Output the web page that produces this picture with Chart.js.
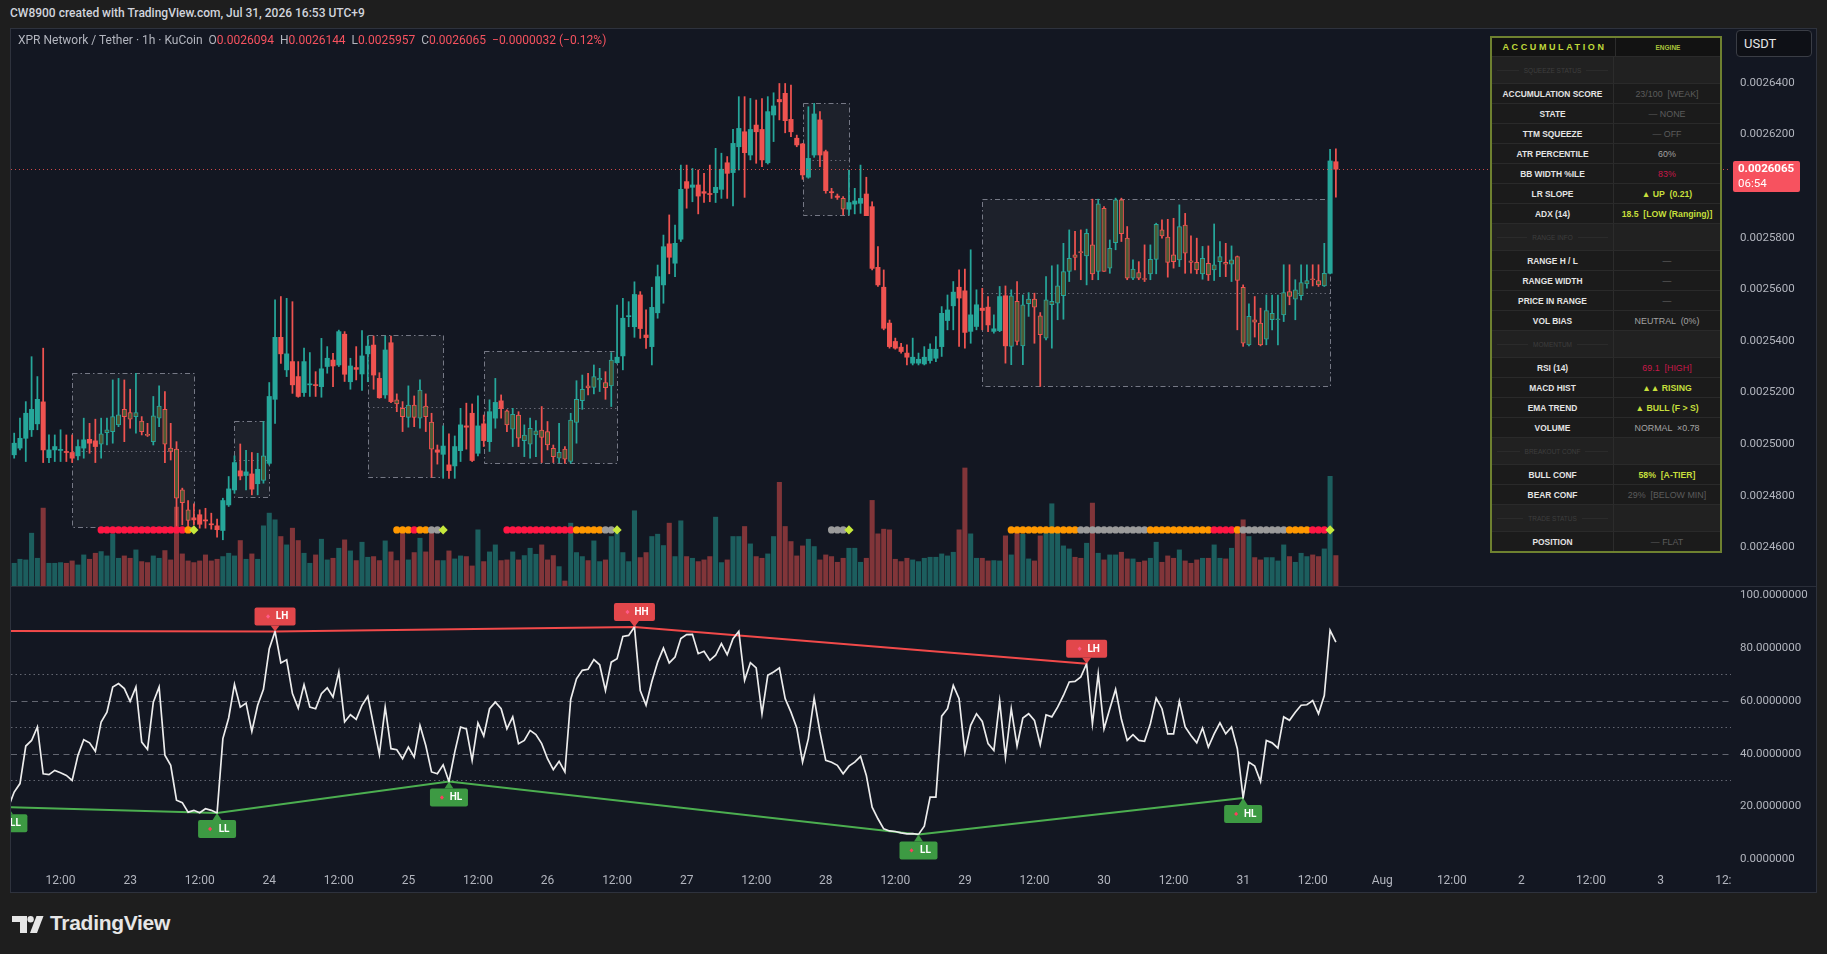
<!DOCTYPE html>
<html>
<head>
<meta charset="utf-8">
<title>XPR Network / Tether · 1h · KuCoin</title>
<script src="https://cdn.jsdelivr.net/npm/chart.js@4.4.1/dist/chart.umd.min.js"></script>
<style>
  html, body { margin:0; padding:0; width:1827px; height:954px; overflow:hidden; background:#1e1e1e; }
  body { position:relative; font-family: Roboto, "Noto Sans", Arial, sans-serif; }
  #header { position:absolute; left:10px; top:6px; font-size:12px; font-weight:500; color:#d1d4dc; white-space:pre; }
  #frame { position:absolute; left:10px; top:28px; width:1807px; height:865px; box-sizing:border-box; border:1px solid #2e323d; background:#131722; }
  #mainCanvas { position:absolute; left:11px; top:29px; }
  #sep { position:absolute; left:11px; top:586px; width:1805px; height:1px; background:#2a2e39; }
  #rsiCanvas { position:absolute; left:11px; top:587px; }
  #axisMask { position:absolute; left:1731px; top:868px; width:85px; height:24px; background:#131722; }
  #legend { position:absolute; left:18px; top:33px; font-size:12px; color:#b2b5be; white-space:pre; }
  #legend .v { color:#f7525f; }
  #usdt { position:absolute; left:1736px; top:30px; width:76px; height:27px; box-sizing:border-box; border:1px solid #3a3d45; border-radius:4px; background:#0e1016; color:#e6e6e6; font-size:13px; line-height:25px; padding-left:7px; }
  #tbl { position:absolute; left:1490px; top:36px; width:232px; border:2px solid #6e8130; box-sizing:border-box; background:#1b1b1b; font-family:"Liberation Sans", Arial, sans-serif; }
  #tbl .r { display:flex; height:20px; border-top:1px solid #2a2a2a; box-sizing:border-box; }
  #tbl .r:first-child { border-top:none; }
  #tbl .a { width:121px; flex:none; border-right:1px solid #2c2c2c; display:flex; align-items:center; justify-content:center; color:#e4e4e4; font-weight:bold; font-size:8.4px; white-space:pre; }
  #tbl .b { flex:1; display:flex; align-items:center; justify-content:center; font-size:8.9px; white-space:pre; }
  #tbl .h { height:18px; background:#121212; }
  #tbl .h .a { color:#c0da3a; letter-spacing:2.6px; font-size:9px; padding-left:2px; }
  #tbl .h .b { color:#a9c23a; font-size:6.5px; font-weight:bold; }
  #tbl .s { height:27px; background:#212121; }
  #tbl .s .a { color:#3e3e3e; font-weight:normal; font-size:6.5px; }
  #tbl .s .a::before, #tbl .s .a::after { content:""; flex:1; height:1px; background:#2b2b2b; margin:0 5px; }
  #tbl .dim { color:#5c5c5c; }
  #tbl .lt { color:#a3a3a3; }
  #tbl .cr { color:#c9184a; }
  #tbl .lm { color:#c6df3c; font-weight:bold; font-size:8.7px; }
  #tbl .ds { color:#6c6c6c; }
  #logo { position:absolute; left:12px; top:916px; }
  #logoText { position:absolute; left:50px; top:911px; font-family:"Liberation Sans", Arial, sans-serif; font-weight:bold; font-size:21px; color:#e6e6e6; letter-spacing:-0.3px; }
</style>
</head>
<body>
<div id="header">CW8900 created with TradingView.com, Jul 31, 2026 16:53 UTC+9</div>
<div id="frame"></div>
<canvas id="mainCanvas" width="1805" height="557" style="width:1805px;height:557px"></canvas>
<div id="sep"></div>
<canvas id="rsiCanvas" width="1805" height="305" style="width:1805px;height:305px"></canvas>
<div id="axisMask"></div>
<div id="legend"></div>
<div id="usdt">USDT</div>
<div id="tbl"></div>
<svg id="logo" width="32" height="17" viewBox="0 0 32 17">
  <path d="M0 0H15V17H8V6H0Z" fill="#e6e6e6"/>
  <circle cx="18.6" cy="3.2" r="3.2" fill="#e6e6e6"/>
  <path d="M24.5 0H31.5L25 17H18Z" fill="#e6e6e6"/>
</svg>
<div id="logoText">TradingView</div>

<script>
// ---------------- DATA ----------------
// First candle: Jul 22 03:00 (UTC+9); x values are hours since Jul 22 00:00.
const FIRST_HOUR = 3;

const opens = [
0.0025118,0.0024959,0.0024985,0.0025023,0.0025056,0.0025079,0.0025164,0.0024948,0.0024978,0.0024976,
0.0024972,0.0024968,0.0024955,0.0024985,0.0025019,0.0025013,0.0025000,0.0025045,0.0025049,0.0025075,
0.0025135,0.0025123,0.0025107,0.0025090,0.0025036,0.0025010,0.0025101,0.0025135,0.0024985,0.0024981,
0.0024823,0.0024746,0.0024715,0.0024727,0.0024707,0.0024690,0.0024684,0.0024666,0.0024765,0.0024823,
0.0024897,0.0024879,0.0024885,0.0024847,0.0024860,0.0024926,0.0025174,0.0025414,0.0025288,0.0025320,
0.0025262,0.0025200,0.0025230,0.0025230,0.0025223,0.0025301,0.0025326,0.0025307,0.0025426,0.0025242,
0.0025297,0.0025272,0.0025350,0.0025384,0.0025255,0.0025191,0.0025393,0.0025172,0.0025139,0.0025104,
0.0025152,0.0025101,0.0025148,0.0025086,0.0024978,0.0024961,0.0024920,0.0024916,0.0024975,0.0025071,
0.0025120,0.0024965,0.0025079,0.0025010,0.0025101,0.0025168,0.0025129,0.0025058,0.0025113,0.0025014,
0.0025000,0.0025036,0.0025055,0.0025049,0.0024984,0.0024946,0.0024981,0.0024933,0.0025084,0.0025169,
0.0025226,0.0025220,0.0025249,0.0025239,0.0025226,0.0025316,0.0025342,0.0025494,0.0025455,0.0025578,
0.0025423,0.0025378,0.0025509,0.0025617,0.0025776,0.0025701,0.0025794,0.0026017,0.0025995,0.0026004,
0.0025978,0.0025969,0.0025974,0.0025987,0.0026090,0.0026052,0.0026152,0.0026210,0.0026120,0.0026236,
0.0026219,0.0026090,0.0026275,0.0026335,0.0026359,0.0026258,0.0026185,0.0026163,0.0026034,0.0026120,
0.0026256,0.0026133,0.0025978,0.0025961,0.0025952,0.0025910,0.0025930,0.0025933,0.0025969,0.0025920,
0.0025685,0.0025608,0.0025469,0.0025398,0.0025376,0.0025353,0.0025314,0.0025314,0.0025311,0.0025324,
0.0025333,0.0025378,0.0025479,0.0025536,0.0025608,0.0025594,0.0025437,0.0025456,0.0025527,0.0025531,
0.0025437,0.0025440,0.0025575,0.0025379,0.0025553,0.0025381,0.0025544,0.0025562,0.0025497,0.0025411,
0.0025540,0.0025546,0.0025575,0.0025669,0.0025733,0.0025746,0.0025729,0.0025772,0.0025669,0.0025914,
0.0025682,0.0025781,0.0025946,0.0025798,0.0025643,0.0025665,0.0025640,0.0025660,0.0025716,0.0025830,
0.0025802,0.0025733,0.0025714,0.0025849,0.0025710,0.0025704,0.0025660,0.0025701,0.0025675,0.0025707,
0.0025704,0.0025697,0.0025727,0.0025608,0.0025385,0.0025482,0.0025469,0.0025407,0.0025482,0.0025482,
0.0025501,0.0025591,0.0025562,0.0025575,0.0025621,0.0025639,0.0025634,0.0025613,0.0025662,0.0026094
];
const highs = [
0.0025135,0.0025043,0.0025101,0.0025165,0.0025339,0.0025262,0.0025372,0.0025036,0.0025036,0.0025056,
0.0025036,0.0025036,0.0025017,0.0025101,0.0025081,0.0025097,0.0025101,0.0025101,0.0025249,0.0025255,
0.0025249,0.0025213,0.0025275,0.0025107,0.0025081,0.0025185,0.0025226,0.0025204,0.0025081,0.0025010,
0.0024830,0.0024782,0.0024769,0.0024746,0.0024752,0.0024733,0.0024710,0.0024791,0.0024875,0.0024955,
0.0025001,0.0024976,0.0024968,0.0024965,0.0025088,0.0025239,0.0025559,0.0025572,0.0025565,0.0025552,
0.0025320,0.0025372,0.0025355,0.0025281,0.0025410,0.0025378,0.0025352,0.0025442,0.0025436,0.0025333,
0.0025378,0.0025440,0.0025419,0.0025419,0.0025277,0.0025419,0.0025419,0.0025195,0.0025165,0.0025226,
0.0025187,0.0025249,0.0025195,0.0025120,0.0024997,0.0025071,0.0025040,0.0025032,0.0025139,0.0025159,
0.0025156,0.0025187,0.0025113,0.0025172,0.0025255,0.0025191,0.0025133,0.0025139,0.0025126,0.0025075,
0.0025101,0.0025092,0.0025146,0.0025088,0.0024997,0.0025081,0.0024991,0.0025120,0.0025246,0.0025268,
0.0025275,0.0025307,0.0025294,0.0025281,0.0025355,0.0025539,0.0025565,0.0025552,0.0025629,0.0025591,
0.0025520,0.0025608,0.0025694,0.0025810,0.0025888,0.0025849,0.0026081,0.0026081,0.0026068,0.0026062,
0.0026049,0.0026081,0.0026146,0.0026127,0.0026114,0.0026219,0.0026346,0.0026346,0.0026339,0.0026333,
0.0026339,0.0026346,0.0026361,0.0026397,0.0026397,0.0026391,0.0026197,0.0026165,0.0026307,0.0026320,
0.0026288,0.0026139,0.0025991,0.0025969,0.0025959,0.0026062,0.0025991,0.0026081,0.0026034,0.0025939,
0.0025765,0.0025675,0.0025481,0.0025411,0.0025391,0.0025385,0.0025411,0.0025353,0.0025378,0.0025389,
0.0025417,0.0025533,0.0025578,0.0025630,0.0025675,0.0025678,0.0025753,0.0025598,0.0025604,0.0025572,
0.0025501,0.0025611,0.0025613,0.0025598,0.0025630,0.0025578,0.0025587,0.0025585,0.0025510,0.0025649,
0.0025691,0.0025695,0.0025778,0.0025830,0.0025824,0.0025830,0.0025833,0.0025949,0.0025949,0.0025920,
0.0025791,0.0025953,0.0025953,0.0025843,0.0025714,0.0025707,0.0025772,0.0025772,0.0025856,0.0025869,
0.0025871,0.0025875,0.0025927,0.0025894,0.0025807,0.0025798,0.0025766,0.0025768,0.0025853,0.0025785,
0.0025778,0.0025768,0.0025729,0.0025617,0.0025544,0.0025572,0.0025527,0.0025578,0.0025578,0.0025578,
0.0025695,0.0025695,0.0025637,0.0025695,0.0025695,0.0025695,0.0025695,0.0025778,0.0026142,0.0026144
];
const lows = [
0.0024950,0.0024946,0.0024978,0.0024933,0.0025030,0.0025056,0.0024929,0.0024929,0.0024933,0.0024933,
0.0024933,0.0024929,0.0024939,0.0024946,0.0024965,0.0024929,0.0024946,0.0024997,0.0025004,0.0025068,
0.0025010,0.0025062,0.0025043,0.0025036,0.0025030,0.0024997,0.0025068,0.0024929,0.0024939,0.0024681,
0.0024688,0.0024681,0.0024688,0.0024675,0.0024675,0.0024671,0.0024640,0.0024630,0.0024759,0.0024810,
0.0024862,0.0024823,0.0024804,0.0024804,0.0024849,0.0024920,0.0025081,0.0025313,0.0025262,0.0025197,
0.0025182,0.0025185,0.0025185,0.0025185,0.0025182,0.0025275,0.0025223,0.0025301,0.0025243,0.0025213,
0.0025249,0.0025208,0.0025242,0.0025213,0.0025178,0.0025178,0.0025161,0.0025126,0.0025049,0.0025066,
0.0025068,0.0025062,0.0025049,0.0024872,0.0024923,0.0024868,0.0024868,0.0024868,0.0024933,0.0024981,
0.0024933,0.0024955,0.0024991,0.0024972,0.0025062,0.0025101,0.0025049,0.0024991,0.0024991,0.0024952,
0.0024946,0.0024952,0.0024929,0.0024978,0.0024929,0.0024929,0.0024926,0.0024926,0.0025004,0.0025135,
0.0025191,0.0025195,0.0025204,0.0025174,0.0025146,0.0025313,0.0025288,0.0025455,0.0025414,0.0025410,
0.0025371,0.0025307,0.0025488,0.0025546,0.0025660,0.0025649,0.0025785,0.0025914,0.0025939,0.0025892,
0.0025936,0.0025939,0.0025936,0.0025952,0.0025952,0.0025923,0.0026062,0.0025956,0.0026101,0.0026088,
0.0026075,0.0026085,0.0026172,0.0026256,0.0026206,0.0026191,0.0026152,0.0026026,0.0026030,0.0026111,
0.0026075,0.0025972,0.0025952,0.0025948,0.0025888,0.0025888,0.0025892,0.0025894,0.0025885,0.0025675,
0.0025611,0.0025443,0.0025372,0.0025368,0.0025353,0.0025307,0.0025307,0.0025307,0.0025307,0.0025314,
0.0025320,0.0025340,0.0025443,0.0025443,0.0025379,0.0025372,0.0025391,0.0025443,0.0025443,0.0025436,
0.0025430,0.0025436,0.0025314,0.0025308,0.0025385,0.0025308,0.0025495,0.0025391,0.0025224,0.0025404,
0.0025372,0.0025482,0.0025484,0.0025630,0.0025675,0.0025637,0.0025617,0.0025637,0.0025637,0.0025669,
0.0025662,0.0025753,0.0025785,0.0025637,0.0025637,0.0025637,0.0025630,0.0025637,0.0025660,0.0025798,
0.0025647,0.0025682,0.0025688,0.0025662,0.0025662,0.0025660,0.0025639,0.0025634,0.0025634,0.0025649,
0.0025649,0.0025630,0.0025443,0.0025379,0.0025381,0.0025415,0.0025381,0.0025385,0.0025443,0.0025385,
0.0025475,0.0025540,0.0025482,0.0025559,0.0025604,0.0025613,0.0025611,0.0025611,0.0025660,0.0025957
];
const closes = [
0.0024962,0.0025004,0.0025023,0.0025120,0.0025135,0.0025174,0.0024978,0.0024978,0.0024991,0.0024978,
0.0024968,0.0024946,0.0024991,0.0025017,0.0025004,0.0024991,0.0025040,0.0025056,0.0025107,0.0025114,
0.0025107,0.0025097,0.0025123,0.0025049,0.0025034,0.0025110,0.0025148,0.0025000,0.0024972,0.0024791,
0.0024774,0.0024705,0.0024707,0.0024690,0.0024703,0.0024688,0.0024669,0.0024782,0.0024827,0.0024929,
0.0024877,0.0024893,0.0024826,0.0024903,0.0024955,0.0025185,0.0025414,0.0025350,0.0025350,0.0025230,
0.0025185,0.0025320,0.0025232,0.0025227,0.0025292,0.0025333,0.0025303,0.0025436,0.0025271,0.0025303,
0.0025290,0.0025342,0.0025380,0.0025268,0.0025180,0.0025365,0.0025165,0.0025156,0.0025107,0.0025152,
0.0025104,0.0025210,0.0025107,0.0024981,0.0024969,0.0024993,0.0024898,0.0024991,0.0025075,0.0025066,
0.0024937,0.0025071,0.0025014,0.0025126,0.0025162,0.0025138,0.0025075,0.0025116,0.0025023,0.0025035,
0.0025062,0.0025052,0.0025026,0.0024997,0.0024952,0.0024969,0.0024942,0.0025094,0.0025174,0.0025213,
0.0025218,0.0025262,0.0025255,0.0025219,0.0025326,0.0025337,0.0025488,0.0025497,0.0025580,0.0025448,
0.0025413,0.0025530,0.0025649,0.0025765,0.0025724,0.0025778,0.0025987,0.0025991,0.0026004,0.0025961,
0.0025972,0.0025967,0.0025995,0.0026065,0.0026049,0.0026165,0.0026223,0.0026129,0.0026219,0.0026210,
0.0026101,0.0026288,0.0026310,0.0026326,0.0026253,0.0026210,0.0026159,0.0026043,0.0026107,0.0026279,
0.0026120,0.0025982,0.0025974,0.0025956,0.0025910,0.0025936,0.0025942,0.0025952,0.0025885,0.0025681,
0.0025617,0.0025449,0.0025378,0.0025372,0.0025359,0.0025337,0.0025337,0.0025329,0.0025337,0.0025368,
0.0025368,0.0025507,0.0025520,0.0025589,0.0025566,0.0025433,0.0025501,0.0025540,0.0025518,0.0025462,
0.0025447,0.0025572,0.0025381,0.0025575,0.0025398,0.0025540,0.0025562,0.0025531,0.0025424,0.0025559,
0.0025553,0.0025613,0.0025669,0.0025720,0.0025723,0.0025742,0.0025817,0.0025660,0.0025931,0.0025669,
0.0025759,0.0025946,0.0025815,0.0025643,0.0025678,0.0025643,0.0025638,0.0025716,0.0025852,0.0025807,
0.0025704,0.0025707,0.0025843,0.0025740,0.0025704,0.0025675,0.0025720,0.0025656,0.0025695,0.0025727,
0.0025697,0.0025714,0.0025634,0.0025391,0.0025495,0.0025473,0.0025385,0.0025518,0.0025507,0.0025484,
0.0025587,0.0025572,0.0025598,0.0025626,0.0025634,0.0025637,0.0025617,0.0025662,0.0026097,0.0026065
];
// relative volume (hidden scale)
const volumes = [
70,68,80,78,158,83,233,68,68,70,
68,75,63,93,80,98,103,90,156,83,
90,83,108,73,70,90,83,106,78,236,
96,75,70,75,93,75,80,88,98,90,
136,80,96,80,180,218,198,148,123,173,
136,98,68,93,140,78,83,113,138,105,
76,131,86,88,76,135,102,76,160,78,
100,143,102,158,76,76,105,81,90,88,
60,168,73,102,123,76,78,102,78,91,
113,95,123,78,91,58,15,188,100,88,
76,135,73,78,148,158,100,73,225,85,
100,148,155,121,188,88,195,88,83,73,
78,88,206,70,78,148,148,178,126,88,
83,96,148,310,178,133,90,120,140,118,
78,93,88,71,83,113,113,71,83,256,
156,170,168,80,73,83,78,73,83,86,
86,96,90,101,168,353,156,83,83,75,
76,75,150,93,171,155,81,75,150,168,
246,163,120,111,86,83,128,248,98,78,
93,93,101,81,81,71,75,83,131,71,
90,83,108,75,68,78,83,83,123,83,
81,113,178,198,148,85,78,85,85,75,
123,88,71,98,88,93,88,111,328,91
];
const rsiValues = [
19.8,25.5,28.7,42.9,45.0,50.1,32.4,32.1,33.7,32.8,
31.8,29.9,39.4,45.3,44.1,40.9,52.0,55.7,65.2,66.5,
64.6,59.8,65.2,44.4,41.6,59.5,65.2,39.4,35.6,22.4,
21.5,17.9,18.6,17.7,19.2,18.6,17.6,45.7,53.5,66.2,
57.6,59.1,48.4,58.3,64.3,79.7,86.2,74.3,75.5,62.7,
57.2,66.1,57.6,57.0,62.7,64.9,61.4,70.9,52.0,54.7,
53.0,58.3,61.7,50.7,39.7,57.6,41.9,41.5,38.1,42.5,
38.7,50.7,43.1,33.1,32.4,35.8,29.5,40.6,50.1,49.4,
37.5,51.6,46.7,57.0,59.5,57.0,49.4,53.9,43.8,45.0,
48.8,47.2,43.8,38.1,34.0,37.1,33.1,60.5,68.3,71.5,
71.9,75.6,73.6,63.9,74.6,75.9,84.3,84.7,87.9,63.9,
58.3,67.3,74.6,79.9,74.3,76.5,83.5,85.0,85.1,77.8,
78.7,75.3,77.2,81.6,77.4,83.5,86.2,67.7,74.4,72.4,
55.1,69.6,70.9,72.4,60.8,55.7,49.7,36.8,45.7,61.0,
48.2,37.5,36.8,35.6,32.4,35.3,36.8,39.0,31.8,19.8,
15.4,11.6,10.8,10.6,10.1,9.7,9.8,9.5,12.6,23.6,
23.6,54.2,57.0,65.8,60.8,40.6,50.7,55.1,52.2,43.8,
41.2,59.8,38.7,57.0,42.9,53.5,55.1,52.6,43.4,54.7,
53.9,57.6,62.0,67.1,67.3,69.0,74.0,51.3,70.2,49.4,
57.0,64.3,53.0,45.0,47.2,45.0,44.7,51.3,61.0,57.0,
47.5,47.5,59.8,50.1,46.9,44.1,49.7,42.5,47.5,51.7,
47.5,50.1,41.9,23.3,36.8,35.3,29.5,45.0,44.1,42.1,
53.9,52.6,55.7,58.3,58.5,60.1,55.1,62.0,86.6,82.2
];

// RSI swing pivots (hour, value, label)
const hiPivotHour  = [1, 49, 111, 189];
const hiPivotValue = [86.4, 86.2, 87.9, 74.0];
const hiPivotLabel = ['', 'LH', 'HH', 'LH'];
const loPivotHour  = [3, 39, 79, 160, 216];
const loPivotValue = [19.8, 17.6, 29.5, 9.5, 23.3];
const loPivotLabel = ['LL', 'LL', 'HL', 'LL', 'HL'];

// Accumulation ranges (hours, prices)
const boxStartHour = [14, 42, 65, 85, 140, 171];
const boxEndHour   = [35, 48, 78, 108, 148, 231];
const boxTop       = [0.0025275, 0.0025090, 0.0025422, 0.0025360, 0.0026320, 0.0025949];
const boxBottom    = [0.0024679, 0.0024797, 0.0024872, 0.0024926, 0.0025888, 0.0025226];
// candles painted in accumulation colour (hour ranges)
const oliveRuns = [[19,34],[47,47],[70,76],[89,107],[147,147],[176,230]];
// state dots: [fromHour, toHour, state]  r=red o=orange g=grey d=breakout diamond
const dotRuns = [
  [19,33,'r'],[34,34,'o'],[35,35,'d'],
  [70,72,'o'],[73,73,'r'],[74,75,'o'],[76,77,'g'],[78,78,'d'],
  [89,100,'r'],[101,105,'o'],[106,107,'g'],[108,108,'d'],
  [145,147,'g'],[148,148,'d'],
  [176,187,'o'],[188,199,'g'],[200,210,'o'],[211,214,'r'],[215,215,'o'],[216,223,'g'],[224,227,'o'],[228,230,'r'],[231,231,'d']
];

const priceTicks = [0.00264, 0.00262, 0.00258, 0.00256, 0.00254, 0.00252, 0.00250, 0.00248, 0.00246];
const rsiTicks = [0, 20, 40, 60, 80, 100];
const rsiLevels = [70, 60, 50, 40, 30];
const rsiLevelStyle = ['dot', 'dash', 'dot', 'dash', 'dot'];
const timeTickHours = [12,24,36,48,60,72,84,96,108,120,132,144,156,168,180,192,204,216,228,240,252,264,276,288,300];
const timeTickLabels = ['12:00','23','12:00','24','12:00','25','12:00','26','12:00','27','12:00','28','12:00','29','12:00','30','12:00','31','12:00','Aug','12:00','2','12:00','3','12:00'];
const lastTimeLeft = '06:54';

const tableRows = [
  ['s','SQUEEZE STATUS'],
  ['r','ACCUMULATION SCORE','23/100  [WEAK]','dim'],
  ['r','STATE','— NONE','dim'],
  ['r','TTM SQUEEZE','— OFF','dim'],
  ['r','ATR PERCENTILE','60%','lt'],
  ['r','BB WIDTH %ILE','83%','cr'],
  ['r','LR SLOPE','▲ UP  (0.21)','lm'],
  ['r','ADX (14)','18.5  [LOW (Ranging)]','lm'],
  ['s','RANGE INFO'],
  ['r','RANGE H / L','—','ds'],
  ['r','RANGE WIDTH','—','ds'],
  ['r','PRICE IN RANGE','—','ds'],
  ['r','VOL BIAS','NEUTRAL  (0%)','lt'],
  ['s','MOMENTUM'],
  ['r','RSI (14)','69.1  [HIGH]','cr'],
  ['r','MACD HIST','▲▲ RISING','lm'],
  ['r','EMA TREND','▲ BULL (F > S)','lm'],
  ['r','VOLUME','NORMAL  ×0.78','lt'],
  ['s','BREAKOUT CONF'],
  ['r','BULL CONF','58%  [A-TIER]','lm'],
  ['r','BEAR CONF','29%  [BELOW MIN]','dim'],
  ['s','TRADE STATUS'],
  ['r','POSITION','— FLAT','dim']
];

// ---------------- LAYOUT / STYLE ----------------
const X_MIN = 3.45, X_MAX = 300.16;
const P_MIN = 0.0024451, P_MAX = 0.0026608;
const VOL_MAX = 1666;
const R_MIN = -3.2, R_MAX = 103.0;
const AXIS_W = 85;
const DOT_LEVEL = 0.0024668;
const UP = '#26a69a', DN = '#ef5350', OLIVE = '#4e5b35';
const AXIS_TXT = '#b2b5be';
Chart.defaults.font.family = 'Roboto, "Noto Sans", sans-serif';

// ---------------- HTML parts ----------------
(function buildHtml() {
  const n = closes.length - 1;
  const fmt = v => v.toFixed(7);
  const ch = closes[n] - closes[n - 1];
  const pct = ch / closes[n - 1] * 100;
  const sign = ch < 0 ? '−' : '+';
  document.getElementById('legend').innerHTML =
    'XPR Network / Tether · 1h · KuCoin  O<span class="v">' + fmt(opens[n]) +
    '</span>  H<span class="v">' + fmt(highs[n]) +
    '</span>  L<span class="v">' + fmt(lows[n]) +
    '</span>  C<span class="v">' + fmt(closes[n]) +
    '</span>  <span class="v">' + sign + Math.abs(ch).toFixed(7) + ' (' + sign + Math.abs(pct).toFixed(2) + '%)</span>';
  let html = '<div class="r h"><div class="a">ACCUMULATION</div><div class="b">ENGINE</div></div>';
  tableRows.forEach(r => {
    if (r[0] === 's') html += '<div class="r s"><div class="a">' + r[1] + '</div><div class="b"></div></div>';
    else html += '<div class="r"><div class="a">' + r[1] + '</div><div class="b ' + r[3] + '">' + r[2].replace(/&/g,'&amp;').replace(/</g,'&lt;').replace(/>/g,'&gt;') + '</div></div>';
  });
  document.getElementById('tbl').innerHTML = html;
})();

// ---------------- derived drawing lists ----------------
const hours = closes.map((_, k) => FIRST_HOUR + k);
const isUp = closes.map((c, k) => c >= opens[k]);
const isOlive = hours.map(h => oliveRuns.some(r => h >= r[0] && h <= r[1]));
const dotColor = { r: '#ff1744', o: '#ff9800', g: '#9b9b9b', d: '#c6e83c' };
const dotPoints = [];
dotRuns.forEach(run => { for (let h = run[0]; h <= run[1]; h++) dotPoints.push({ x: h, y: DOT_LEVEL, s: run[2] }); });

// axis fitting helpers: fixed axis size, no extra label padding
const fitVertical = s => { s.width = AXIS_W; s.paddingTop = 0; s.paddingBottom = 0; };
const fitHorizontal = s => { s.height = 24; s.paddingLeft = 0; s.paddingRight = 0; };

// ---------------- MAIN PANE ----------------
const mainDeco = {
  id: 'mainDeco',
  beforeDatasetsDraw(chart) {
    const { ctx, chartArea: a, scales: { x, y } } = chart;
    ctx.save();
    ctx.beginPath(); ctx.rect(a.left, a.top, a.right - a.left, a.bottom - a.top); ctx.clip();
    for (let b = 0; b < boxStartHour.length; b++) {
      const x0 = Math.round(x.getPixelForValue(boxStartHour[b])) + 0.5;
      const x1 = Math.round(x.getPixelForValue(boxEndHour[b])) + 0.5;
      const y0 = Math.round(y.getPixelForValue(boxTop[b])) + 0.5;
      const y1 = Math.round(y.getPixelForValue(boxBottom[b])) + 0.5;
      ctx.fillStyle = 'rgba(255,255,255,0.045)';
      ctx.fillRect(x0, y0, x1 - x0, y1 - y0);
      ctx.lineWidth = 1;
      ctx.strokeStyle = 'rgba(150,152,165,0.75)';
      ctx.setLineDash([5, 3, 1.5, 3]);
      ctx.strokeRect(x0, y0, x1 - x0, y1 - y0);
      const ym = Math.round((y0 + y1) / 2) + 0.5;
      ctx.setLineDash([1.5, 3]);
      ctx.strokeStyle = 'rgba(150,152,165,0.6)';
      ctx.beginPath(); ctx.moveTo(x0, ym); ctx.lineTo(x1, ym); ctx.stroke();
    }
    ctx.restore();
  },
  afterDatasetsDraw(chart) {
    const { ctx, chartArea: a, scales: { y } } = chart;
    const py = Math.round(y.getPixelForValue(closes[closes.length - 1])) + 0.5;
    ctx.save();
    ctx.strokeStyle = 'rgba(239,83,80,0.85)';
    ctx.lineWidth = 1;
    ctx.setLineDash([1, 3]);
    ctx.beginPath(); ctx.moveTo(a.left, py); ctx.lineTo(a.right, py); ctx.stroke();
    ctx.restore();
  },
  afterDraw(chart) {
    const { ctx, chartArea: a, scales: { y } } = chart;
    const last = closes[closes.length - 1];
    const py = y.getPixelForValue(last);
    const bx = a.right + 2, bw = 67, by = Math.round(py) - 8, bh = 31;
    ctx.save();
    ctx.fillStyle = '#f7525f';
    ctx.beginPath();
    if (ctx.roundRect) ctx.roundRect(bx, by, bw, bh, 2); else ctx.rect(bx, by, bw, bh);
    ctx.fill();
    ctx.fillStyle = '#ffffff';
    ctx.textAlign = 'left'; ctx.textBaseline = 'middle';
    ctx.font = 'bold 11.5px Roboto, sans-serif';
    ctx.fillText(last.toFixed(7), bx + 5, Math.round(py) + 0.5);
    ctx.font = '11.5px Roboto, sans-serif';
    ctx.fillText(lastTimeLeft, bx + 5, Math.round(py) + 15);
    ctx.restore();
  }
};

new Chart(document.getElementById('mainCanvas'), {
  type: 'bar',
  data: {
    datasets: [
      {
        type: 'bar', label: 'Volume', yAxisID: 'yv', order: 10, grouped: false,
        data: hours.map((h, k) => ({ x: h, y: volumes[k] })),
        backgroundColor: isUp.map(u => u ? 'rgba(38,166,154,0.5)' : 'rgba(239,83,80,0.5)'),
        barThickness: 4.4
      },
      {
        type: 'bar', label: 'Wick', yAxisID: 'y', order: 6, grouped: false,
        data: hours.map((h, k) => ({ x: h, y: [lows[k], highs[k]] })),
        backgroundColor: isUp.map(u => u ? UP : DN),
        barThickness: 1.1
      },
      {
        type: 'bar', label: 'Body', yAxisID: 'y', order: 5, grouped: false,
        data: hours.map((h, k) => ({ x: h, y: [opens[k], closes[k]] })),
        backgroundColor: hours.map((h, k) => isOlive[k] ? OLIVE : (isUp[k] ? UP : DN)),
        borderColor: isUp.map(u => u ? UP : DN),
        borderWidth: isOlive.map(o => o ? 1 : 0),
        borderSkipped: false,
        minBarLength: 1,
        barThickness: 4.4
      },
      {
        type: 'line', label: 'State', yAxisID: 'y', order: 1,
        data: dotPoints,
        showLine: false,
        pointRadius: dotPoints.map(p => p.s === 'd' ? 4.6 : 3.6),
        pointStyle: dotPoints.map(p => p.s === 'd' ? 'rectRot' : 'circle'),
        pointBackgroundColor: dotPoints.map(p => dotColor[p.s]),
        pointBorderWidth: 0
      }
    ]
  },
  options: {
    responsive: false, animation: false, events: [],
    layout: { padding: 0, autoPadding: false },
    plugins: { legend: { display: false }, tooltip: { enabled: false } },
    scales: {
      x: { type: 'linear', min: X_MIN, max: X_MAX, offset: false, display: false },
      y: {
        type: 'linear', position: 'right', min: P_MIN, max: P_MAX,
        afterBuildTicks: s => { s.ticks = priceTicks.map(v => ({ value: v })); },
        afterFit: fitVertical,
        ticks: { color: AXIS_TXT, font: { size: 11.5 }, padding: 9, callback: v => Number(v).toFixed(7) },
        grid: { display: false, drawTicks: false }, border: { display: false }
      },
      yv: { type: 'linear', min: 0, max: VOL_MAX, display: false }
    }
  },
  plugins: [mainDeco]
});

// ---------------- RSI PANE ----------------
function drawPivotLabel(ctx, px, py, text, isHigh) {
  const w = isHigh ? 41 : 38, h = 18;
  const gap = isHigh ? 6 : 7;
  const top = isHigh ? py - gap - h : py + gap;
  ctx.fillStyle = isHigh ? '#e2474b' : '#3d9a43';
  ctx.beginPath();
  if (ctx.roundRect) ctx.roundRect(px - w / 2, top, w, h, 2); else ctx.rect(px - w / 2, top, w, h);
  ctx.fill();
  ctx.beginPath();
  if (isHigh) { ctx.moveTo(px - 4.5, top + h); ctx.lineTo(px + 4.5, top + h); ctx.lineTo(px, py); }
  else { ctx.moveTo(px - 4.5, top); ctx.lineTo(px + 4.5, top); ctx.lineTo(px, py); }
  ctx.closePath(); ctx.fill();
  const ix = px - 7, iy = top + h / 2;
  ctx.fillStyle = isHigh ? '#ff5c8a' : '#ff3d5e';
  ctx.beginPath(); ctx.moveTo(ix, iy - 2.2); ctx.lineTo(ix + 2, iy); ctx.lineTo(ix, iy + 2.2); ctx.lineTo(ix - 2, iy); ctx.closePath(); ctx.fill();
  ctx.fillStyle = '#ffffff';
  ctx.font = 'bold 10px Roboto, sans-serif';
  ctx.textAlign = 'center'; ctx.textBaseline = 'middle';
  ctx.fillText(text, px + 7, iy + 0.5);
}

const rsiDeco = {
  id: 'rsiDeco',
  beforeDatasetsDraw(chart) {
    const { ctx, chartArea: a, scales: { x, y } } = chart;
    ctx.save();
    ctx.beginPath(); ctx.rect(a.left, a.top, a.right - a.left, a.bottom - a.top); ctx.clip();
    ctx.lineWidth = 1;
    rsiLevels.forEach((lv, i) => {
      const py = Math.round(y.getPixelForValue(lv)) + 0.5;
      ctx.strokeStyle = 'rgba(165,168,178,0.55)';
      ctx.setLineDash(rsiLevelStyle[i] === 'dot' ? [1.5, 3] : [6, 4.5]);
      ctx.beginPath(); ctx.moveTo(a.left, py); ctx.lineTo(a.right, py); ctx.stroke();
    });
    ctx.setLineDash([]);
    ctx.lineWidth = 2;
    ctx.strokeStyle = '#f24a4a';
    ctx.beginPath();
    hiPivotHour.forEach((h, i) => { const px = x.getPixelForValue(h), py = y.getPixelForValue(hiPivotValue[i]); i ? ctx.lineTo(px, py) : ctx.moveTo(px, py); });
    ctx.stroke();
    ctx.strokeStyle = '#4caf50';
    ctx.beginPath();
    loPivotHour.forEach((h, i) => { const px = x.getPixelForValue(h), py = y.getPixelForValue(loPivotValue[i]); i ? ctx.lineTo(px, py) : ctx.moveTo(px, py); });
    ctx.stroke();
    ctx.restore();
  },
  afterDatasetsDraw(chart) {
    const { ctx, chartArea: a, scales: { x, y } } = chart;
    ctx.save();
    ctx.beginPath(); ctx.rect(a.left, a.top, a.right - a.left, a.bottom - a.top); ctx.clip();
    hiPivotHour.forEach((h, i) => { if (hiPivotLabel[i]) drawPivotLabel(ctx, x.getPixelForValue(h), y.getPixelForValue(hiPivotValue[i]), hiPivotLabel[i], true); });
    loPivotHour.forEach((h, i) => { if (loPivotLabel[i]) drawPivotLabel(ctx, x.getPixelForValue(h), y.getPixelForValue(loPivotValue[i]), loPivotLabel[i], false); });
    ctx.restore();
  }
};

new Chart(document.getElementById('rsiCanvas'), {
  type: 'line',
  data: {
    datasets: [{
      label: 'RSI', data: hours.map((h, k) => ({ x: h, y: rsiValues[k] })),
      borderColor: '#ececec', borderWidth: 1.7, pointRadius: 0, tension: 0, fill: false
    }]
  },
  options: {
    responsive: false, animation: false, events: [],
    layout: { padding: 0, autoPadding: false },
    plugins: { legend: { display: false }, tooltip: { enabled: false } },
    scales: {
      x: {
        type: 'linear', min: X_MIN, max: X_MAX, offset: false,
        afterBuildTicks: s => { s.ticks = timeTickHours.map(v => ({ value: v })); },
        afterFit: fitHorizontal,
        ticks: { color: AXIS_TXT, font: { size: 12 }, padding: 6, autoSkip: false, maxRotation: 0, minRotation: 0,
                 callback: (v, i) => timeTickLabels[i] },
        grid: { display: false, drawTicks: false }, border: { display: false }
      },
      y: {
        type: 'linear', position: 'right', min: R_MIN, max: R_MAX,
        afterBuildTicks: s => { s.ticks = rsiTicks.map(v => ({ value: v })); },
        afterFit: fitVertical,
        ticks: { color: AXIS_TXT, font: { size: 11.5 }, padding: 9, callback: v => Number(v).toFixed(7) },
        grid: { display: false, drawTicks: false }, border: { display: false }
      }
    }
  },
  plugins: [rsiDeco]
});
</script>
</body>
</html>
